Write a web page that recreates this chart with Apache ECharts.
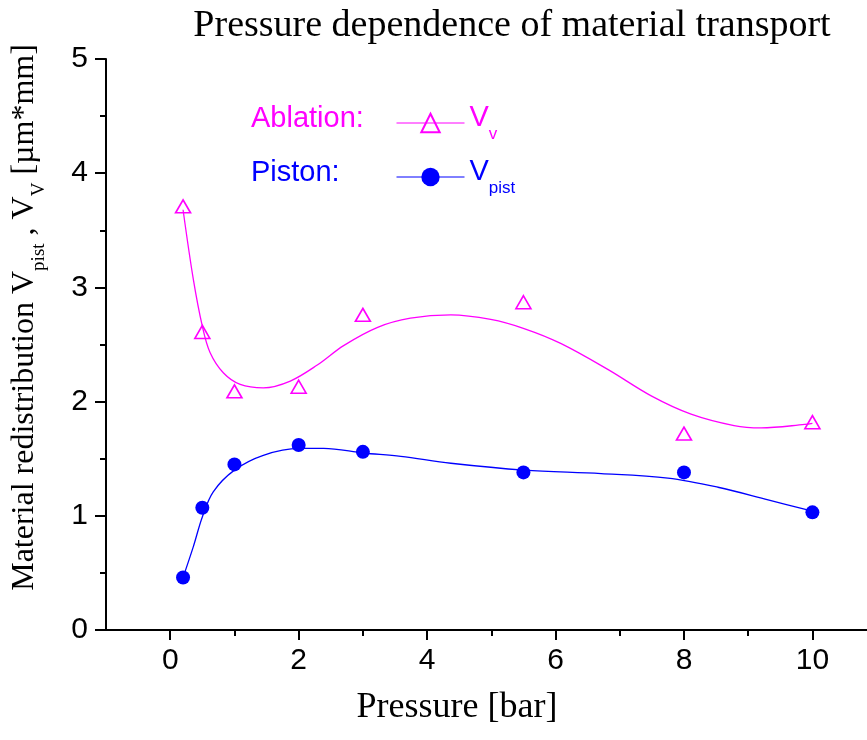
<!DOCTYPE html>
<html>
<head>
<meta charset="utf-8">
<script src="https://cdn.jsdelivr.net/npm/echarts@6/dist/echarts.min.js"></script>
<style>html,body{margin:0;padding:0;background:#fff}#c{width:867px;height:740px}</style>
</head>
<body>
<div id="c"></div>
<script>
// ---- data ----
var pressure = [0.2, 0.5, 1, 2, 3, 5.5, 8, 10];
var ablation = [3.71, 2.61, 2.09, 2.13, 2.76, 2.87, 1.72, 1.82];
var piston   = [0.46, 1.07, 1.45, 1.62, 1.56, 1.38, 1.38, 1.03];

// fitted curves
var ablationFitX = [0.2, 0.36, 0.5, 0.62, 0.83, 1.09, 1.45, 1.87, 2.29, 2.70, 3.23, 3.74, 4.37, 4.99, 5.51, 6.08, 6.82, 7.49, 8.11, 8.78, 9.2, 9.88, 10];
var ablationFitY = [3.68, 3.07, 2.66, 2.43, 2.25, 2.15, 2.12, 2.18, 2.32, 2.49, 2.65, 2.73, 2.76, 2.72, 2.64, 2.51, 2.28, 2.05, 1.89, 1.79, 1.77, 1.80, 1.81];
var pistonFitX = [0.2, 0.36, 0.5, 0.67, 1.0, 1.45, 2.01, 2.39, 3.01, 3.59, 4.37, 5.51, 6.71, 7.75, 8.53, 9.31, 10];
var pistonFitY = [0.46, 0.73, 0.99, 1.21, 1.40, 1.53, 1.59, 1.59, 1.55, 1.52, 1.46, 1.40, 1.37, 1.33, 1.25, 1.14, 1.04];

var xMajorTicks = [0, 2, 4, 6, 8, 10];
var xMinorTicks = [1, 3, 5, 7, 9];

var MAG = '#FF00FF', BLUE = '#0000FF';
function zip(a, b) { return a.map(function (v, i) { return [v, b[i]]; }); }

var chart = echarts.init(document.getElementById('c'), null, {renderer: 'canvas'});
var serif = 'Liberation Serif';
var sans = 'Liberation Sans';

var option = {
  animation: false,
  backgroundColor: '#fff',
  title: {
    text: 'Pressure dependence of material transport',
    left: 507, top: 2, textAlign: 'center',
    textStyle: {fontFamily: serif, fontSize: 38, fontWeight: 'normal', color: '#000'}
  },
  grid: {left: 106, right: 0, top: 59, bottom: 110, containLabel: false},
  xAxis: [{
    type: 'value', min: -1, max: 10.85,
    name: 'Pressure [bar]', nameLocation: 'middle', nameGap: 60,
    nameTextStyle: {fontFamily: serif, fontSize: 36, color: '#000', padding: [0, 59, 0, 0]},
    axisLine: {show: true, onZero: false, lineStyle: {color: '#000', width: 2}},
    axisTick: {show: true, inside: false, length: 10, customValues: xMajorTicks, lineStyle: {color: '#000', width: 2}},
    axisLabel: {show: true, customValues: xMajorTicks, margin: 16, fontFamily: sans, fontSize: 30, color: '#000'},
    splitLine: {show: false}
  }, {
    type: 'value', min: -1, max: 10.85, position: 'bottom',
    axisLine: {show: false, onZero: false},
    axisTick: {show: true, inside: false, length: 6, customValues: xMinorTicks, lineStyle: {color: '#000', width: 2}},
    axisLabel: {show: false},
    splitLine: {show: false}
  }],
  yAxis: {
    type: 'value', min: 0, max: 5, interval: 1,
    name: '{t|Material redistribution V}{s|pist}{t| , V}{s|V}{t| [µm*mm]}',
    nameLocation: 'middle', nameGap: 57, nameRotate: 90,
    nameTextStyle: {
      padding: [0, 0, 0, 54],
      rich: {
        t: {fontFamily: serif, fontSize: 32, color: '#000', lineHeight: 40, verticalAlign: 'top'},
        s: {fontFamily: serif, fontSize: 19, color: '#000', lineHeight: 40, verticalAlign: 'bottom'}
      }
    },
    axisLine: {show: true, onZero: false, lineStyle: {color: '#000', width: 2}},
    axisTick: {show: true, inside: false, length: 11, lineStyle: {color: '#000', width: 2}},
    minorTick: {show: true, splitNumber: 2, length: 6, lineStyle: {color: '#000', width: 2}},
    axisLabel: {margin: 18, fontFamily: sans, fontSize: 30, color: '#000'},
    splitLine: {show: false}
  },
  legend: [{
    left: 396, top: 103, orient: 'vertical', padding: 0,
    itemWidth: 68, itemHeight: 23,
    selectedMode: false,
    data: [{name: 'Vv'}],
    lineStyle: {opacity: 1, width: 1},
    formatter: function () { return '{v|V}{s|v}'; },
    textStyle: {rich: {
      v: {fontFamily: sans, fontSize: 29, color: MAG, lineHeight: 40, verticalAlign: 'top'},
      s: {fontFamily: sans, fontSize: 17, color: MAG, lineHeight: 40, verticalAlign: 'bottom'}
    }}
  }, {
    left: 396, top: 157, orient: 'vertical', padding: 0,
    itemWidth: 68, itemHeight: 23,
    selectedMode: false,
    data: [{name: 'Vpist'}],
    lineStyle: {opacity: 1, width: 1},
    formatter: function () { return '{v|V}{s|pist}'; },
    textStyle: {rich: {
      v: {fontFamily: sans, fontSize: 29, color: BLUE, lineHeight: 40, verticalAlign: 'top'},
      s: {fontFamily: sans, fontSize: 17, color: BLUE, lineHeight: 40, verticalAlign: 'bottom'}
    }}
  }],
  graphic: [
    {type: 'text', left: 251, top: 104, style: {text: 'Ablation:', fontFamily: sans, fontSize: 29, fill: MAG}},
    {type: 'text', left: 251, top: 158, style: {text: 'Piston:', fontFamily: sans, fontSize: 29, fill: BLUE}}
  ],
  series: [{
    name: 'ablationFit', type: 'line', data: zip(ablationFitX, ablationFitY),
    smooth: 0.35, showSymbol: false, silent: true,
    lineStyle: {color: MAG, width: 1.3}, itemStyle: {color: MAG}, z: 2
  }, {
    name: 'pistonFit', type: 'line', data: zip(pistonFitX, pistonFitY),
    smooth: 0.35, showSymbol: false, silent: true,
    lineStyle: {color: BLUE, width: 1.3}, itemStyle: {color: BLUE}, z: 2
  }, {
    name: 'Vv', type: 'line', data: zip(pressure, ablation),
    symbol: 'triangle', symbolSize: [15, 13], showAllSymbol: true,
    lineStyle: {opacity: 0, color: MAG, width: 1},
    itemStyle: {color: 'rgba(0,0,0,0)', borderColor: MAG, borderWidth: 1.6}, z: 3
  }, {
    name: 'Vpist', type: 'line', data: zip(pressure, piston),
    symbol: 'circle', symbolSize: 14, showAllSymbol: true,
    lineStyle: {opacity: 0, color: BLUE, width: 1},
    itemStyle: {color: BLUE, borderWidth: 0}, z: 3
  }]
};
chart.setOption(option);
</script>
</body>
</html>
